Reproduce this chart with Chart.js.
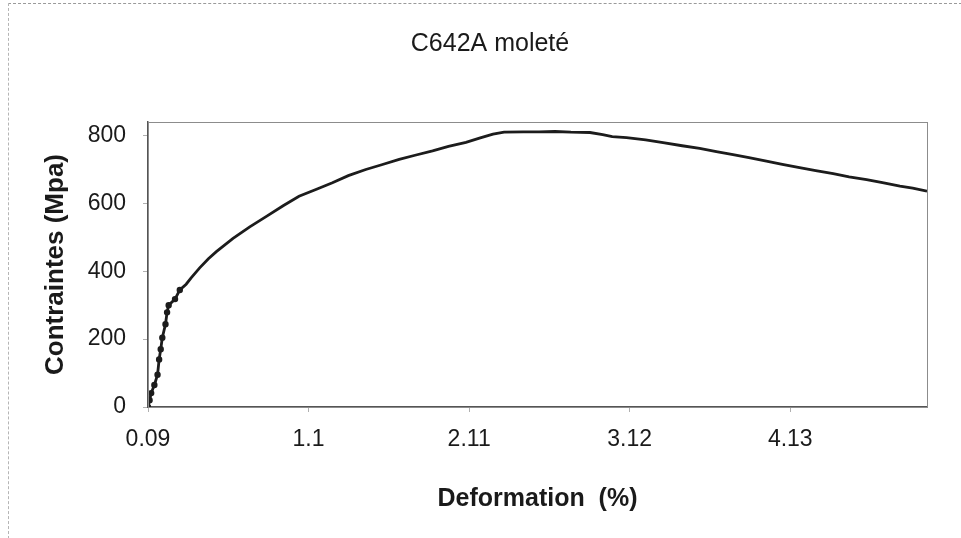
<!DOCTYPE html>
<html>
<head>
<meta charset="utf-8">
<script src="https://cdn.jsdelivr.net/npm/chart.js@4/dist/chart.umd.min.js"></script>
<style>
  html, body { margin: 0; padding: 0; background: #fff; }
  #frame {
    position: absolute; left: 8px; top: 3px; width: 953px; height: 535px;
    border-top: 1px dashed #9a9a9a; border-left: 1px dashed #b5b5b5;
  }
  #wrap { position: absolute; left: 0; top: 0; width: 961px; height: 538px; }
</style>
</head>
<body>
<div id="frame"></div>
<div id="wrap"><canvas id="canvas" width="961" height="538"></canvas></div>
<script>
// strain (%) and stress (MPa)
const deformation = [
  0.09, 0.10, 0.11, 0.13, 0.15, 0.16, 0.17, 0.18, 0.20, 0.21, 0.22, 0.26, 0.29, 0.33,
  0.36, 0.415, 0.47, 0.52, 0.625, 0.73, 0.835, 0.94, 1.04, 1.15, 1.25, 1.35, 1.46,
  1.56, 1.67, 1.77, 1.88, 1.98, 2.09, 2.18, 2.26, 2.33, 2.45, 2.55, 2.65, 2.75, 2.87,
  2.95, 3.01, 3.10, 3.22, 3.33, 3.45, 3.56, 3.665, 3.77, 3.87, 3.98, 4.08, 4.18,
  4.29, 4.40, 4.50, 4.61, 4.71, 4.82, 4.90, 4.99
];
const contraintes = [
  0, 20, 41, 65, 95, 140, 170, 204, 244, 279, 300, 318, 345, 362,
  380, 410, 437, 458, 497, 531, 562, 593, 621, 642, 661, 682, 700,
  714, 730, 742, 755, 768, 780, 793, 804, 810, 811, 811, 812, 810, 809,
  803, 797, 794, 787, 779, 770, 762, 753, 744, 735, 725, 715, 706,
  697, 688, 678, 670, 661, 651, 645, 636
];
const xTicks = [0.09, 1.1, 2.11, 3.12, 4.13];
const yTicks = [0, 200, 400, 600, 800];

const points = deformation.map((x, i) => ({ x: x, y: contraintes[i] }));

// thin grey frame round the plot area
const plotFrame = {
  id: 'plotFrame',
  afterDatasetsDraw(chart) {
    const a = chart.chartArea, c = chart.ctx;
    c.save();
    c.strokeStyle = '#8c8c8c';
    c.lineWidth = 1;
    c.strokeRect(a.left + 0.5, a.top + 0.5, a.right - a.left, a.bottom - a.top);
    c.restore();
  }
};

new Chart(document.getElementById('canvas').getContext('2d'), {
  type: 'scatter',
  data: {
    datasets: [{
      data: points,
      showLine: true,
      borderColor: '#1c1c1c',
      backgroundColor: '#1c1c1c',
      borderWidth: 2.8,
      pointRadius: ctx => (ctx.raw && ctx.raw.x < 0.3 ? 1.8 : 0),
      tension: 0
    }]
  },
  options: {
    responsive: false,
    animation: false,
    layout: { padding: { left: 19, right: 0, top: 0, bottom: 20 } },
    plugins: {
      legend: { display: false },
      tooltip: { enabled: false },
      title: {
        display: true,
        text: 'C642A moleté',
        color: '#1a1a1a',
        font: { family: 'Liberation Sans', size: 25, weight: 'normal' },
        padding: { top: 29, bottom: 63 }
      }
    },
    scales: {
      x: {
        type: 'linear',
        min: 0.09,
        max: 4.99,
        afterBuildTicks: s => { s.ticks = xTicks.map(v => ({ value: v })); },
        afterFit: s => { s.height = 111; },
        ticks: {
          color: '#1a1a1a',
          padding: 14,
          maxRotation: 0,
          font: { family: 'Liberation Sans', size: 23 },
          callback: v => String(Number(v.toFixed(2)))
        },
        grid: { drawOnChartArea: false, tickLength: 5, color: '#b0b0b0' },
        border: { color: '#555', width: 1.5 },
        title: {
          display: true,
          text: 'Deformation  (%)',
          color: '#1a1a1a',
          font: { family: 'Liberation Sans', size: 25, weight: 'bold' },
          padding: { top: 0, bottom: 4 }
        }
      },
      y: {
        min: 0,
        max: 840,
        afterBuildTicks: s => { s.ticks = yTicks.map(v => ({ value: v })); },
        afterFit: s => { s.width = 129; },
        ticks: {
          color: '#1a1a1a',
          padding: 17,
          font: { family: 'Liberation Sans', size: 23 }
        },
        grid: { drawOnChartArea: false, tickLength: 5, color: '#b0b0b0' },
        border: { color: '#555', width: 1.5 },
        title: {
          display: true,
          text: 'Contraintes (Mpa)',
          color: '#1a1a1a',
          font: { family: 'Liberation Sans', size: 26, weight: 'bold' },
          padding: { top: 21.4, bottom: 0 }
        }
      },
      // empty right-hand margin box so the title centres over the whole frame
      yMargin: {
        position: 'right',
        display: true,
        afterFit: s => { s.width = 34; },
        ticks: { display: false },
        grid: { display: false },
        border: { display: false }
      }
    }
  },
  plugins: [plotFrame]
});
</script>
</body>
</html>
